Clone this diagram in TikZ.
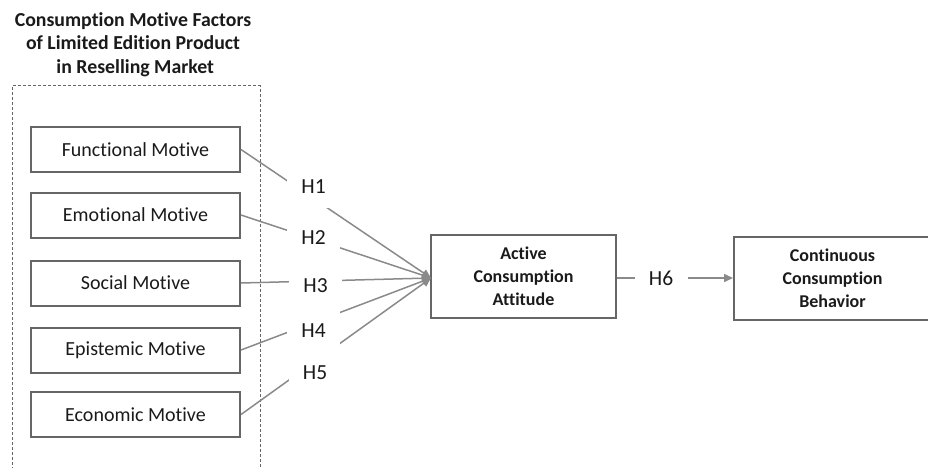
\documentclass[tikz,border=0pt]{standalone}
\usepackage{fontspec}
\setmainfont{Carlito}[Ligatures={NoCommon}]
\usetikzlibrary{arrows.meta}
\definecolor{boxgray}{HTML}{666666}
\definecolor{linegray}{HTML}{8A8A8A}
\definecolor{txt}{HTML}{1A1A1A}
\begin{document}
\begin{tikzpicture}[x=1pt,y=-1pt,
  motive/.style={draw=boxgray,line width=2pt,minimum width=209pt,minimum height=45pt,inner sep=0pt,font=\fontsize{20}{24}\selectfont,text=txt},
  bigbox/.style={draw=boxgray,line width=2pt,inner sep=0pt,align=center,font=\fontsize{18}{23}\selectfont\bfseries,text=txt},
  hlab/.style={fill=white,inner sep=0pt,minimum width=53pt,minimum height=42pt,font=\fontsize{21.5}{24}\selectfont,text=txt},
  conn/.style={draw=linegray,line width=1.5pt},
  arr/.style={conn,-{Triangle[length=9pt,width=8pt]}}
]
\useasboundingbox (0,0) rectangle (928,468);
\begin{scope}
\clip (0,0) rectangle (928,468);
\draw[boxgray,line width=1pt,dash pattern=on 3pt off 2pt] (12,475) -- (12,86) -- (260,86) -- (260,475);
\end{scope}
\node[align=center,font=\fontsize{19.8}{23.5}\selectfont\bfseries,text=txt] (title) at (133,44.5) {Consumption Motive Factors\\of Limited Edition Product\\\ in Reselling Market};

\node[motive] (fun) at (135.5,149.5) {Functional Motive};
\node[motive] (emo) at (135.5,215) {Emotional Motive};
\node[motive] (soc) at (135.5,283) {Social Motive};
\node[motive] (epi) at (135.5,350) {Epistemic Motive};
\node[motive] (eco) at (135.5,414.5) {Economic Motive};

\node[bigbox,minimum width=185pt,minimum height=83pt] (act) at (523.5,276.5) {Active\\Consumption\\Attitude};
\node[bigbox,minimum width=197pt,minimum height=83pt,anchor=west] (con) at (733,278.5) {Continuous\\Consumption\\Behavior};
\coordinate (tip) at (431,278);

\draw[arr] (fun.east) -- (tip);
\draw[arr] (emo.east) -- (tip);
\draw[arr] (soc.east) -- (tip);
\draw[arr] (epi.east) -- (tip);
\draw[arr] (eco.east) -- (tip);
\draw[arr] (act.east |- tip) -- (con.west |- tip);

\node[hlab] (h1) at (313.5,187) {H1};
\node[hlab] (h2) at (313.5,238) {H2};
\node[hlab] (h3) at (315.5,286) {H3};
\node[hlab] (h4) at (313.5,331) {H4};
\node[hlab] (h5) at (315,373) {H5};
\node[hlab,minimum height=30pt] (h6) at (661,278) {H6};
\end{tikzpicture}
\end{document}
